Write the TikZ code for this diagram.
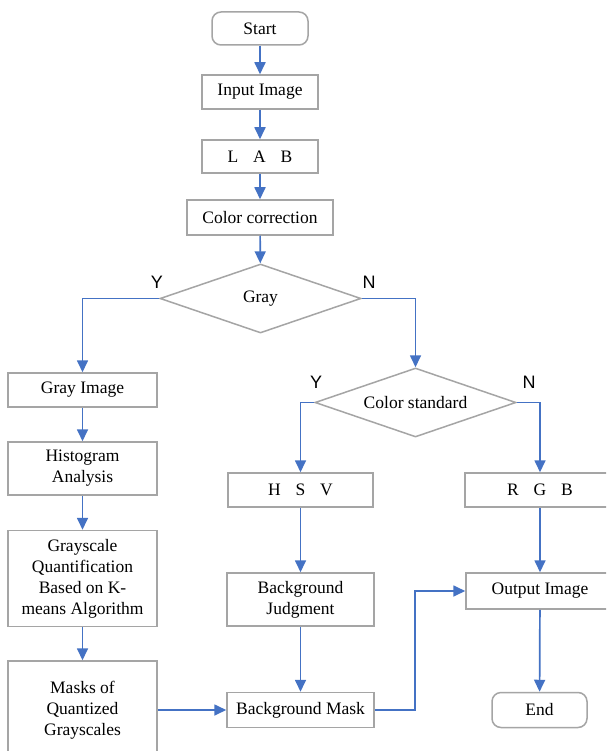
\documentclass[tikz,border=0pt]{standalone}
\usepackage{fontspec}
\setmainfont{Liberation Serif}
\newfontfamily\labfont{Liberation Sans}
\usetikzlibrary{shapes.geometric,arrows.meta}
\definecolor{boxgray}{HTML}{A5A5A5}
\definecolor{arrblue}{HTML}{4472C4}
\tikzset{
  box/.style={draw=boxgray, line width=1.5pt, fill=white, align=center, inner sep=0pt,
    font=\fontsize{17.5}{21}\selectfont},
  rbox/.style={box, rounded corners=9pt},
  dec/.style={draw=boxgray, line width=1.5pt, fill=white, diamond, shape aspect=2.9,
    inner sep=0pt, minimum width=201pt, minimum height=69pt, font=\fontsize{17.5}{21}\selectfont},
  yn/.style={font=\labfont\fontsize{18}{20}\selectfont, inner sep=0pt},
  arr/.style={draw=arrblue, line width=1.7pt, -{Triangle[length=12pt,width=11pt]}},
}
\newcommand{\lsp}{\hspace{0.85em}}
\begin{document}
\begin{tikzpicture}[x=1pt,y=-1pt]
\clip (0,0) rectangle (606,751);
\fill[white] (0,0) rectangle (606,751);
% main column
\node[rbox, minimum width=96pt, minimum height=33pt] (start) at (260,28.5) {Start};
\node[box, minimum width=116pt, minimum height=34pt] (input) at (260,92) {Input Image};
\node[box, minimum width=116pt, minimum height=33pt] (lab) at (260,156.5) {L\lsp A\lsp B};
\node[box, minimum width=146pt, minimum height=35pt] (cc) at (260,217.5) {Color correction};
\node[dec] (gray) at (260.5,298.5) {Gray};
% left column
\node[box, minimum width=149pt, minimum height=34pt] (grayimg) at (82.5,390) {Gray Image};
\node[box, minimum width=149pt, minimum height=53pt] (hist) at (82.5,468.5) {Histogram\\Analysis};
\node[box, minimum width=149pt, minimum height=96pt] (gq) at (82.5,578.5) {Grayscale\\Quantification\\Based on K-\\means Algorithm};
\node[box, minimum width=149pt, minimum height=98pt] (masks) at (82.5,710) {Masks of\\Quantized\\Grayscales};
% middle / right
\node[dec] (csd) at (415.5,402.5) {Color standard};
\node[box, minimum width=145pt, minimum height=34pt] (hsv) at (300.5,490) {H\lsp S\lsp V};
\node[box, minimum width=150pt, minimum height=34pt] (rgb) at (540,490) {R\lsp G\lsp B};
\node[box, minimum width=147pt, minimum height=53pt] (bj) at (300.5,599.5) {Background\\Judgment};
\node[box, minimum width=147pt, minimum height=35pt] (bm) at (300.5,710) {Background Mask};
\node[box, minimum width=148pt, minimum height=36pt] (out) at (540,591) {Output Image};
\node[rbox, minimum width=95pt, minimum height=35pt] (end) at (539.5,710) {End};
% labels
\node[yn] (y1) at (157,282) {Y};
\node[yn] (n1) at (369,282) {N};
\node[yn] (y2) at (316,382) {Y};
\node[yn] (n2) at (529,382) {N};
% connectors
\draw[arr] (start) -- (input);
\draw[arr] (input) -- (lab);
\draw[arr] (lab) -- (cc);
\draw[arr] (cc) -- (gray);
\draw[arr] (gray.west) -| (grayimg.north);
\draw[arr] (gray.east) -| (csd.north);
\draw[arr] (grayimg) -- (hist);
\draw[arr] (hist) -- (gq);
\draw[arr] (gq) -- (masks);
\draw[arr] (masks.east) -- (bm.west);
\draw[arr] (csd.west) -| (hsv.north);
\draw[arr] (csd.east) -| (rgb.north);
\draw[arr] (hsv) -- (bj);
\draw[arr] (bj) -- (bm);
\coordinate (knee) at (415,0);
\draw[arr] (bm.east) -- (bm.east -| knee) |- (out.west);
\draw[arr] (rgb) -- (out);
\draw[arr] (out) -- (end);
\end{tikzpicture}
\end{document}
